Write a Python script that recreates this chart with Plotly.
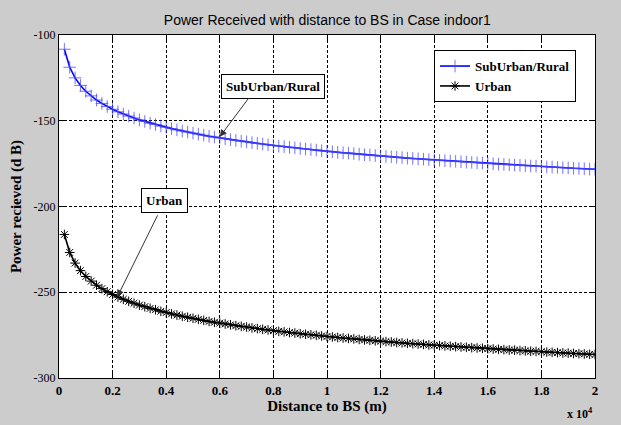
import plotly.graph_objects as go

# distance samples (m): every 200 m from 200 m to 20 km
step_m = 200
n_points = 100
distance_m = [step_m * k for k in range(1, n_points + 1)]

suburban_db = [
    -108.3, -118.8, -125.0, -129.4, -132.8, -135.5, -137.9, -139.9, -141.7, -143.3,
    -144.8, -146.1, -147.3, -148.4, -149.5, -150.4, -151.4, -152.2, -153.1, -153.8,
    -154.6, -155.3, -156.0, -156.6, -157.2, -157.8, -158.4, -159.0, -159.5, -160.0,
    -160.5, -161.0, -161.5, -161.9, -162.3, -162.8, -163.2, -163.6, -164.0, -164.4,
    -164.8, -165.1, -165.5, -165.8, -166.2, -166.5, -166.8, -167.1, -167.5, -167.8,
    -168.1, -168.4, -168.7, -168.9, -169.2, -169.5, -169.8, -170.0, -170.3, -170.5,
    -170.8, -171.0, -171.3, -171.5, -171.8, -172.0, -172.2, -172.4, -172.7, -172.9,
    -173.1, -173.3, -173.5, -173.7, -173.9, -174.1, -174.3, -174.5, -174.7, -174.9,
    -175.1, -175.3, -175.5, -175.7, -175.8, -176.0, -176.2, -176.4, -176.5, -176.7,
    -176.9, -177.0, -177.2, -177.4, -177.5, -177.7, -177.8, -178.0, -178.2, -178.3,
]

urban_db = [
    -216.3, -226.8, -233.0, -237.4, -240.8, -243.5, -245.9, -247.9, -249.7, -251.3,
    -252.8, -254.1, -255.3, -256.4, -257.5, -258.4, -259.4, -260.2, -261.1, -261.8,
    -262.6, -263.3, -264.0, -264.6, -265.2, -265.8, -266.4, -267.0, -267.5, -268.0,
    -268.5, -269.0, -269.5, -269.9, -270.3, -270.8, -271.2, -271.6, -272.0, -272.4,
    -272.8, -273.1, -273.5, -273.8, -274.2, -274.5, -274.8, -275.1, -275.5, -275.8,
    -276.1, -276.4, -276.7, -276.9, -277.2, -277.5, -277.8, -278.0, -278.3, -278.5,
    -278.8, -279.0, -279.3, -279.5, -279.8, -280.0, -280.2, -280.4, -280.7, -280.9,
    -281.1, -281.3, -281.5, -281.7, -281.9, -282.1, -282.3, -282.5, -282.7, -282.9,
    -283.1, -283.3, -283.5, -283.7, -283.8, -284.0, -284.2, -284.4, -284.5, -284.7,
    -284.9, -285.0, -285.2, -285.4, -285.5, -285.7, -285.8, -286.0, -286.2, -286.3,
]

x_tick_vals = [0, 2000, 4000, 6000, 8000, 10000, 12000, 14000, 16000, 18000, 20000]
x_tick_text = ["0", "0.2", "0.4", "0.6", "0.8", "1", "1.2", "1.4", "1.6", "1.8", "2"]
y_tick_vals = [-300, -250, -200, -150, -100]
y_tick_text = ["-300", "-250", "-200", "-150", "-100"]

title_text = "Power Received with distance to BS in Case indoor1"
x_title = "Distance to BS (m)"
y_title = "Power recieved (d B)"

SERIF = "Liberation Serif, Times New Roman, serif"
SANS = "Liberation Sans, Arial, sans-serif"

fig = go.Figure()
fig.add_trace(go.Scatter(
    x=distance_m, y=suburban_db, mode="lines+markers", name="SubUrban/Rural",
    line=dict(color="#0000ff", width=1.6),
    marker=dict(symbol="cross-thin", size=9, line=dict(color="rgba(70,70,255,0.75)", width=1)),
))
fig.add_trace(go.Scatter(
    x=distance_m, y=urban_db, mode="lines+markers", name="Urban",
    line=dict(color="#000000", width=1.6),
    marker=dict(symbol="asterisk-open", size=8, line=dict(color="rgba(80,80,80,0.8)", width=1)),
))

axis_common = dict(
    showline=True, linecolor="black", linewidth=1, mirror="ticks",
    ticks="inside", ticklen=5, tickcolor="black",
    showgrid=True, gridcolor="black", gridwidth=1, griddash="3px,2px",
    zeroline=False, automargin=False,
)

fig.update_xaxes(
    range=[0, 20000], tickvals=x_tick_vals, ticktext=x_tick_text,
    tickfont=dict(family=SERIF, size=13, color="black", weight="bold"),
    title=dict(text=x_title, font=dict(family=SERIF, size=15, color="black", weight="bold"), standoff=0),
    **axis_common,
)
fig.update_yaxes(
    range=[-300, -100], tickvals=y_tick_vals, ticktext=y_tick_text,
    tickfont=dict(family=SERIF, size=12, color="black"),
    title=dict(text=y_title, font=dict(family=SERIF, size=15, color="black", weight="bold"), standoff=8),
    **axis_common,
)

box_font = dict(family=SERIF, size=13, color="black", weight="bold")
fig.add_annotation(x=8000, y=-129.8, text="SubUrban/Rural", showarrow=False,
                   font=box_font, bgcolor="white", bordercolor="black", borderwidth=1, borderpad=4)
fig.add_annotation(x=3955, y=-196.3, text="Urban", showarrow=False,
                   font=box_font, bgcolor="white", bordercolor="black", borderwidth=1, borderpad=4)
fig.add_annotation(x=6000, y=-159.3, text="", showarrow=True, ax=30, ay=-40,
                   arrowhead=2, arrowsize=1.4, arrowwidth=1, arrowcolor="#333333")
fig.add_annotation(x=2175, y=-252.7, text="", showarrow=True, ax=41, ay=-83,
                   arrowhead=2, arrowsize=1.4, arrowwidth=1, arrowcolor="#333333")
fig.add_annotation(x=1.0, y=-0.075, xref="paper", yref="paper", xanchor="right", yanchor="top",
                   text="x 10<sup>4</sup>", showarrow=False,
                   font=dict(family=SERIF, size=12, color="black", weight="bold"))

fig.update_layout(
    width=621, height=425,
    paper_bgcolor="#cccccc", plot_bgcolor="white",
    margin=dict(l=59, r=26, t=35, b=47, autoexpand=False),
    title=dict(text=title_text, x=0.527, xanchor="center", y=0.952, yanchor="middle",
               font=dict(family=SANS, size=14, color="black")),
    showlegend=True,
    legend=dict(x=0.9646, y=0.956, xanchor="right", yanchor="top",
                bgcolor="white", bordercolor="black", borderwidth=1,
                font=dict(family=SERIF, size=13, color="black", weight="bold"),
                tracegroupgap=2, itemwidth=30),
)

fig.write_html("out.html", config={"displayModeBar": False},
               post_script="document.body.style.margin='0';document.body.style.background='#cccccc';")
